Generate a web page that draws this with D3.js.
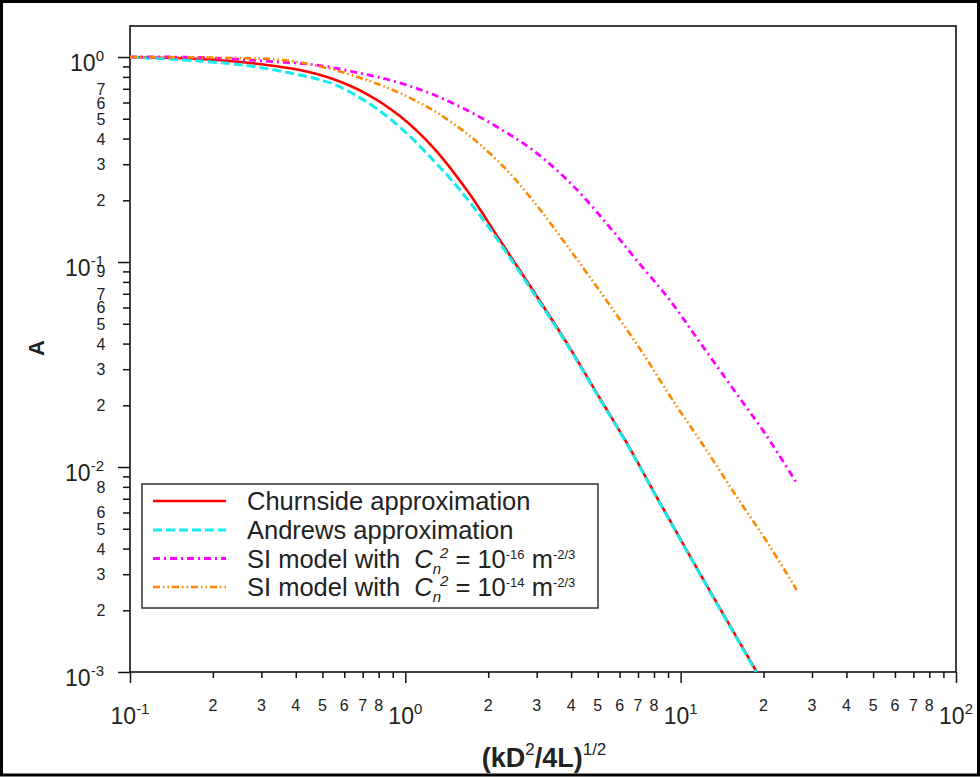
<!DOCTYPE html>
<html>
<head>
<meta charset="utf-8">
<script src="https://cdn.jsdelivr.net/npm/d3@7"></script>
<style>
  body { margin: 0; background: #fff; }
  svg { display: block; }
  text { font-family: "Liberation Sans", Arial, sans-serif; fill: #222; }
</style>
</head>
<body>
<div class="chart"></div>
<script>
// values (x = (kD^2/4L)^1/2, A)
const churnX = [0.1, 0.1795, 0.2725, 0.414, 0.5455, 0.7248, 0.955, 1.2585, 1.672, 2.203, 2.903, 3.857, 5.08, 6.37, 8.18, 11.72, 18.88];
const churnA = [1, 0.978, 0.935, 0.864, 0.781, 0.66, 0.5156, 0.3639, 0.2245, 0.128, 0.073, 0.0403, 0.0217, 0.0131, 0.00714, 0.00304, 0.001];

const andrewsX = [0.1, 0.1795, 0.2725, 0.414, 0.546, 0.725, 0.956, 1.26, 1.58, 2.08, 2.903, 3.857, 5.08, 6.37, 8.18, 11.72, 18.8];
const andrewsA = [1, 0.956, 0.904, 0.817, 0.739, 0.603, 0.455, 0.315, 0.2245, 0.1385, 0.0715, 0.0398, 0.0215, 0.013, 0.0071, 0.00302, 0.001];

const si16X = [0.1, 0.1795, 0.35, 0.476, 0.667, 0.899, 1.224, 1.67, 2.19, 2.9, 4.04, 5.52, 6.92, 9.12, 11.72, 15.42, 20.3, 26.4];
const si16A = [1, 0.995, 0.945, 0.914, 0.84, 0.765, 0.667, 0.551, 0.45, 0.352, 0.2375, 0.148, 0.102, 0.0653, 0.0407, 0.0243, 0.01449, 0.00835];

const si14X = [0.1, 0.236, 0.3595, 0.518, 0.725, 0.955, 1.258, 1.61, 1.911, 2.336, 2.76, 3.155, 4.193, 5.525, 7.28, 9.35, 12.4, 15.99, 20.7, 26.4];
const si14A = [1, 0.989, 0.967, 0.884, 0.772, 0.667, 0.551, 0.44, 0.3639, 0.2811, 0.2171, 0.1734, 0.1034, 0.0617, 0.036, 0.0212, 0.0121, 0.00714, 0.00426, 0.00251];

const xMajor = [0.1, 1, 10, 100];
const xLabelDigits = [2, 3, 4, 5, 6, 7, 8];
const yMajor = [1, 0.1, 0.01, 0.001];
const yDecades = [0.1, 0.01, 0.001];
const yLabelDigits = [[2, 3, 4, 5, 6, 7], [2, 3, 4, 5, 6, 7, 9], [2, 3, 4, 5, 6, 8]];

const series = [
  { name: "churn", xs: churnX, ys: churnA, color: "#ff0000", dash: null, w: 2.6 },
  { name: "andrews", xs: andrewsX, ys: andrewsA, color: "#18eaf0", dash: "9,4", w: 3 },
  { name: "si16", xs: si16X, ys: si16A, color: "#ff00ff", dash: "7,4,2,4", w: 2.8 },
  { name: "si14", xs: si14X, ys: si14A, color: "#ff8800", dash: "7,3,1.5,3,1.5,3", w: 2.6 }
];

const width = 980, height = 777;
const plot = { left: 130, right: 956, top: 26, bottom: 672 };

const x = d3.scaleLog().domain([0.1, 100]).range([plot.left, plot.right]);
const y = d3.scaleLog().domain([0.001, 1.417]).range([plot.bottom, plot.top]);

const svg = d3.select(".chart").append("svg")
  .attr("width", width)
  .attr("height", height);

// outer frame
svg.append("rect")
  .attr("x", 1.5).attr("y", 1.5)
  .attr("width", width - 3).attr("height", 773.5)
  .attr("fill", "none").attr("stroke", "#000").attr("stroke-width", 3);

svg.append("clipPath").attr("id", "clip")
  .append("rect")
  .attr("x", plot.left).attr("y", plot.top)
  .attr("width", plot.right - plot.left).attr("height", plot.bottom - plot.top);

// minor tick values
const xMinor = [];
xMajor.slice(0, -1).forEach(d => { for (let k = 2; k <= 9; k++) xMinor.push(d * k); });
const yMinor = [];
yDecades.forEach(d => { for (let k = 2; k <= 9; k++) yMinor.push(d * k); });

function styleAxis(g) {
  g.select(".domain").remove();
  g.selectAll("line").attr("stroke", "#111").attr("stroke-width", 1.5);
}

svg.append("g").attr("transform", `translate(0,${plot.bottom})`)
  .call(d3.axisBottom(x).tickValues(xMinor).tickSize(6).tickFormat(""))
  .call(styleAxis);
svg.append("g").attr("transform", `translate(0,${plot.bottom})`)
  .call(d3.axisBottom(x).tickValues(xMajor).tickSize(11).tickFormat(""))
  .call(styleAxis);
svg.append("g").attr("transform", `translate(${plot.left},0)`)
  .call(d3.axisLeft(y).tickValues(yMinor).tickSize(7).tickFormat(""))
  .call(styleAxis);
svg.append("g").attr("transform", `translate(${plot.left},0)`)
  .call(d3.axisLeft(y).tickValues(yMajor).tickSize(12).tickFormat(""))
  .call(styleAxis);

// plot frame
svg.append("rect")
  .attr("x", plot.left).attr("y", plot.top)
  .attr("width", plot.right - plot.left).attr("height", plot.bottom - plot.top)
  .attr("fill", "none").attr("stroke", "#111").attr("stroke-width", 1.6);

// x tick labels
const xMinorLab = [];
xMajor.slice(0, -1).forEach(d => xLabelDigits.forEach(k => xMinorLab.push({ v: d * k, k })));
svg.append("g").selectAll("text").data(xMinorLab).join("text")
  .attr("x", d => x(d.v)).attr("y", 711)
  .attr("text-anchor", "middle").style("font-size", "16px")
  .text(d => d.k);

const xMaj = svg.append("g").selectAll("text").data(xMajor).join("text")
  .attr("x", d => x(d)).attr("y", 724)
  .attr("text-anchor", "middle").style("font-size", "23px");
xMaj.append("tspan").text("10");
xMaj.append("tspan").attr("dy", -10).style("font-size", "15px")
  .text(d => Math.round(Math.log10(d)));

// y tick labels
const yMinorLab = [];
yDecades.forEach((d, i) => yLabelDigits[i].forEach(k => yMinorLab.push({ v: d * k, k })));
svg.append("g").selectAll("text").data(yMinorLab).join("text")
  .attr("x", 101).attr("y", d => y(d.v) + 6)
  .attr("text-anchor", "middle").style("font-size", "16px")
  .text(d => d.k);

const yMaj = svg.append("g").selectAll("text").data(yMajor).join("text")
  .attr("x", 104).attr("y", d => y(d) + 14)
  .attr("text-anchor", "end").style("font-size", "23px");
yMaj.append("tspan").text("10");
yMaj.append("tspan").attr("dy", -10).style("font-size", "15px")
  .text(d => Math.round(Math.log10(d)));

// axis titles
svg.append("text")
  .attr("transform", "translate(44,348) rotate(-90)")
  .attr("text-anchor", "middle")
  .style("font-size", "22px").style("font-weight", "bold")
  .text("A");

const xt = svg.append("text")
  .attr("x", 544).attr("y", 767)
  .attr("text-anchor", "middle")
  .style("font-size", "27px").style("font-weight", "bold");
xt.append("tspan").text("(kD");
xt.append("tspan").attr("dy", -12).style("font-size", "17px").style("font-weight", "normal").text("2");
xt.append("tspan").attr("dy", 12).text("/4L)");
xt.append("tspan").attr("dy", -12).style("font-size", "17px").style("font-weight", "normal").text("1/2");

// curves
const line = d3.line()
  .x(d => x(d[0]))
  .y(d => y(d[1]))
  .curve(d3.curveCatmullRom.alpha(0.5));

svg.append("g").attr("clip-path", "url(#clip)")
  .selectAll("path").data(series).join("path")
  .attr("d", s => line(s.xs.map((v, i) => [v, s.ys[i]])))
  .attr("fill", "none")
  .attr("stroke", s => s.color)
  .attr("stroke-width", s => s.w)
  .attr("stroke-dasharray", s => s.dash);

// legend
const legend = svg.append("g");
legend.append("rect")
  .attr("x", 142).attr("y", 484).attr("width", 456).attr("height", 124)
  .attr("fill", "#fff").attr("stroke", "#333").attr("stroke-width", 1.5);

const rowY = [501, 530, 558.5, 587];
legend.selectAll("line").data(series).join("line")
  .attr("x1", 153).attr("x2", 226)
  .attr("y1", (s, i) => rowY[i]).attr("y2", (s, i) => rowY[i])
  .attr("stroke", s => s.color)
  .attr("stroke-width", s => s.w)
  .attr("stroke-dasharray", s => s.dash);

const fs = "25.5px";
legend.append("text").attr("x", 247).attr("y", rowY[0] + 9).style("font-size", fs).text("Churnside approximation");
legend.append("text").attr("x", 247).attr("y", rowY[1] + 9).style("font-size", fs).text("Andrews approximation");

function siLabel(row, exp) {
  const t = legend.append("text").attr("x", 247).attr("y", rowY[row] + 9).style("font-size", fs);
  t.append("tspan").text("SI model with \u00a0");
  t.append("tspan").style("font-style", "italic").text("C");
  t.append("tspan").attr("dy", 6).style("font-size", "15px").style("font-style", "italic").text("n");
  t.append("tspan").attr("dy", -16).attr("dx", -1).style("font-size", "15px").style("font-style", "italic").text("2");
  t.append("tspan").attr("dy", 10).text(" = 10");
  t.append("tspan").attr("dy", -9).style("font-size", "13px").text(exp);
  t.append("tspan").attr("dy", 9).text(" m");
  t.append("tspan").attr("dy", -9).style("font-size", "13px").text("-2/3");
}
siLabel(2, "-16");
siLabel(3, "-14");
</script>
</body>
</html>
